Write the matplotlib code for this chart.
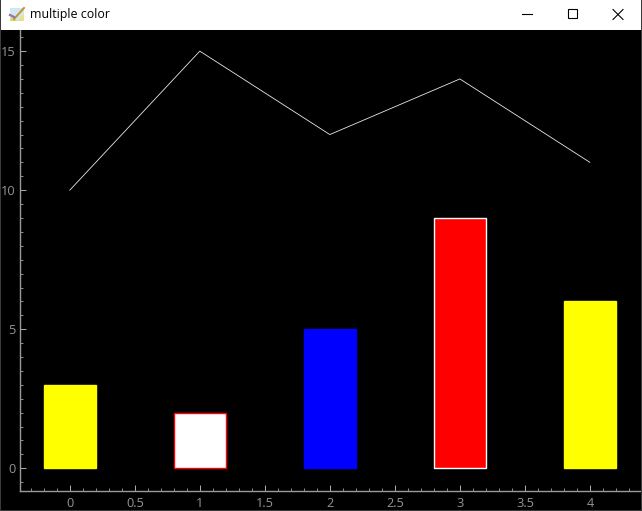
# -*- coding: utf-8 -*-
import matplotlib
matplotlib.use('Agg')
import matplotlib.pyplot as plt
from matplotlib.patches import Rectangle, Polygon
from matplotlib.ticker import MultipleLocator, FuncFormatter

W, H = 642, 511
xs = [0, 1, 2, 3, 4]
line_vals = [10, 15, 12, 14, 11]
bar_vals = [3, 2, 5, 9, 6]
bar_colors = ['#ffff00', '#ffffff', '#0000ff', '#ff0000', '#ffff00']
bar_edges = ['#ffff00', '#ff0000', '#0000ff', '#ffffff', '#ffff00']
title = 'multiple color'

plt.rcParams['font.family'] = ['Open Sans', 'DejaVu Sans']
fig = plt.figure(figsize=(W / 100, H / 100), dpi=100, facecolor='#000000')

# plot area, pixel box of the axis lines
left, right, top, bottom = 20.5, 641, 30, 490.5
ax = fig.add_axes([left / W, 1 - bottom / H, (right - left) / W, (bottom - top) / H])
ax.set_facecolor('#000000')

# --------------------------------------------------------------------------- #
ax.plot(xs, line_vals, color='#e8e8e8', lw=0.6, zorder=3)
ax.bar(xs, bar_vals, width=0.4, color=bar_colors, edgecolor=bar_edges, linewidth=1.0, zorder=2)

ax.set_xlim(-0.379, 4.393)
ax.set_ylim(-0.80, 15.76)
ax.xaxis.set_major_locator(MultipleLocator(0.5))
ax.xaxis.set_minor_locator(MultipleLocator(0.1))
ax.yaxis.set_major_locator(MultipleLocator(5))
ax.yaxis.set_minor_locator(MultipleLocator(0.5))
ax.xaxis.set_major_formatter(FuncFormatter(lambda v, p: f'{v:g}'))
ax.yaxis.set_major_formatter(FuncFormatter(lambda v, p: f'{v:g}'))

for s in ['top', 'right']:
    ax.spines[s].set_visible(False)
for s in ['left', 'bottom']:
    ax.spines[s].set_color('#9a9a9a')
    ax.spines[s].set_linewidth(1.0)

ax.tick_params(axis='both', which='major', direction='in', length=4.5, width=0.7,
               color='#b0b0b0', labelcolor='#949494', labelsize=9.2)
ax.tick_params(axis='both', which='minor', direction='in', length=2.4, width=0.7, color='#8c8c8c')
ax.tick_params(axis='x', which='major', pad=5)
ax.tick_params(axis='y', which='major', pad=3.5)

# --------------------------------------------------------------------------- #
# window frame, in pixels
chrome = fig.add_axes([0, 0, 1, 1], zorder=10)
chrome.set_xlim(0, W)
chrome.set_ylim(H, 0)
chrome.axis('off')
chrome.patch.set_alpha(0)
chrome.add_patch(Rectangle((0, 0), W, 30, fc='#ffffff', ec='none'))
chrome.add_patch(Rectangle((0, 0), 1, H, fc='#3a3a3a', ec='none'))
chrome.add_patch(Rectangle((0, H - 1), W, 1, fc='#3a3a3a', ec='none'))
chrome.add_patch(Rectangle((W - 1, 0), 1, H, fc='#3a3a3a', ec='none'))
chrome.text(30, 14.5, title, fontsize=8.9, color='#000000', ha='left', va='center')

# app icon
chrome.add_patch(Rectangle((10, 8), 14, 13, fc='#cfe8f0', ec='none'))
chrome.add_patch(Polygon([(10, 21), (17, 21), (12, 15)], fc='#c8e070', ec='none'))
chrome.add_patch(Polygon([(17, 21), (24, 21), (24, 14)], fc='#f0e080', ec='none'))
chrome.plot([14, 24], [19, 8], color='#c89030', lw=1.4)
chrome.plot([10, 14], [15, 17], color='#a070b0', lw=1.6)

# minimise / maximise / close
chrome.plot([522, 532], [14.5, 14.5], color='#000000', lw=0.8)
chrome.add_patch(Rectangle((567.5, 9.5), 9, 9, fc='none', ec='#000000', lw=0.8))
chrome.plot([613, 623], [9.5, 19.5], color='#000000', lw=0.8)
chrome.plot([613, 623], [19.5, 9.5], color='#000000', lw=0.8)

fig.savefig('out.png', dpi=100, facecolor=fig.get_facecolor())
